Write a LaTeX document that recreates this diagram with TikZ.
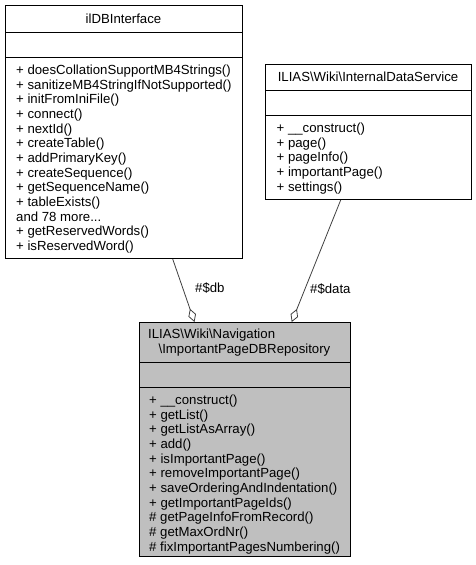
\documentclass[tikz,border=0pt]{standalone}
\usepackage{fontspec}
\setmainfont{Liberation Sans}
\usetikzlibrary{arrows.meta}
\definecolor{edgegray}{HTML}{404040}
\definecolor{boxgray}{HTML}{BFBFBF}
\tikzset{
  umlbox/.style={draw=black, line width=1pt, fill=white, inner sep=0pt, anchor=north west},
  umlcur/.style={umlbox, fill=boxgray},
  txt/.style={inner sep=0pt, font=\fontsize{13.2}{14.7}\selectfont},
  agg/.style={draw=edgegray, line width=0.8pt, {Diamond[open, fill=white, length=14pt, width=8pt]}-},
}
\newcommand{\bs}{\textbackslash{}}
\newcommand{\moretxt}{and 78 more...}
\begin{document}
\begin{tikzpicture}[x=1pt, y=-1pt]
\useasboundingbox (0,0) rectangle (475,565);
% boxes
\node[umlbox, minimum width=237pt, minimum height=253pt] (b1) at (5,5) {};
\node[umlbox, minimum width=206pt, minimum height=135pt] (b2) at (265,64) {};
\node[umlcur, minimum width=211pt, minimum height=234pt] (b3) at (139,322) {};
% dividers
\draw[line width=1pt] (b1.west |- 0,32) -- (b1.east |- 0,32);
\draw[line width=1pt] (b1.west |- 0,57) -- (b1.east |- 0,57);
\draw[line width=1pt] (b2.west |- 0,90) -- (b2.east |- 0,90);
\draw[line width=1pt] (b2.west |- 0,115) -- (b2.east |- 0,115);
\draw[line width=1pt] (b3.west |- 0,362) -- (b3.east |- 0,362);
\draw[line width=1pt] (b3.west |- 0,387) -- (b3.east |- 0,387);
% titles
\node[txt, anchor=base] (t1) at (123.5,23) {ilDBInterface};
\node[txt, anchor=base] (t2) at (368,81.5) {ILIAS\bs Wiki\bs InternalDataService};
\node[txt, anchor=base west] (t3a) at (148,338.5) {ILIAS\bs Wiki\bs Navigation};
\node[txt, anchor=base] (t3b) at (244.5,353.2) {\bs ImportantPageDBRepository};
% members
\foreach [count=\i] \t in {
  + doesCollationSupportMB4Strings(),
  + sanitizeMB4StringIfNotSupported(),
  + initFromIniFile(),
  + connect(),
  + nextId(),
  + createTable(),
  + addPrimaryKey(),
  + createSequence(),
  + getSequenceName(),
  + tableExists(),
  \moretxt,
  + getReservedWords(),
  + isReservedWord()}
  \node[txt, anchor=base west] (m1-\i) at (16,{74.5+(\i-1)*14.65}) {\t};
\foreach [count=\i] \t in {
  + \_\_construct(),
  + page(),
  + pageInfo(),
  + importantPage(),
  + settings()}
  \node[txt, anchor=base west] (m2-\i) at (276.5,{132.5+(\i-1)*14.65}) {\t};
\foreach [count=\i] \t in {
  + \_\_construct(),
  + getList(),
  + getListAsArray(),
  + add(),
  + isImportantPage(),
  + removeImportantPage(),
  + saveOrderingAndIndentation(),
  + getImportantPageIds(),
  \# getPageInfoFromRecord(),
  \# getMaxOrdNr(),
  \# fixImportantPagesNumbering()}
  \node[txt, anchor=base west] (m3-\i) at (149,{404.5+(\i-1)*14.65}) {\t};
% connectors
\coordinate (db1) at ([xshift=167.7pt]b1.south west);
\coordinate (db3) at ([xshift=55.5pt]b3.north west);
\coordinate (da2) at ([xshift=75.7pt]b2.south west);
\coordinate (da3) at ([xshift=152.7pt]b3.north west);
\draw[agg] (db3) -- (db1);
\draw[agg] (da3) -- (da2);
\node[txt, anchor=west] (ldb) at (195,288.5) {\#\$db};
\node[txt, anchor=west] (lda) at (310,289.5) {\#\$data};
\end{tikzpicture}
\end{document}
